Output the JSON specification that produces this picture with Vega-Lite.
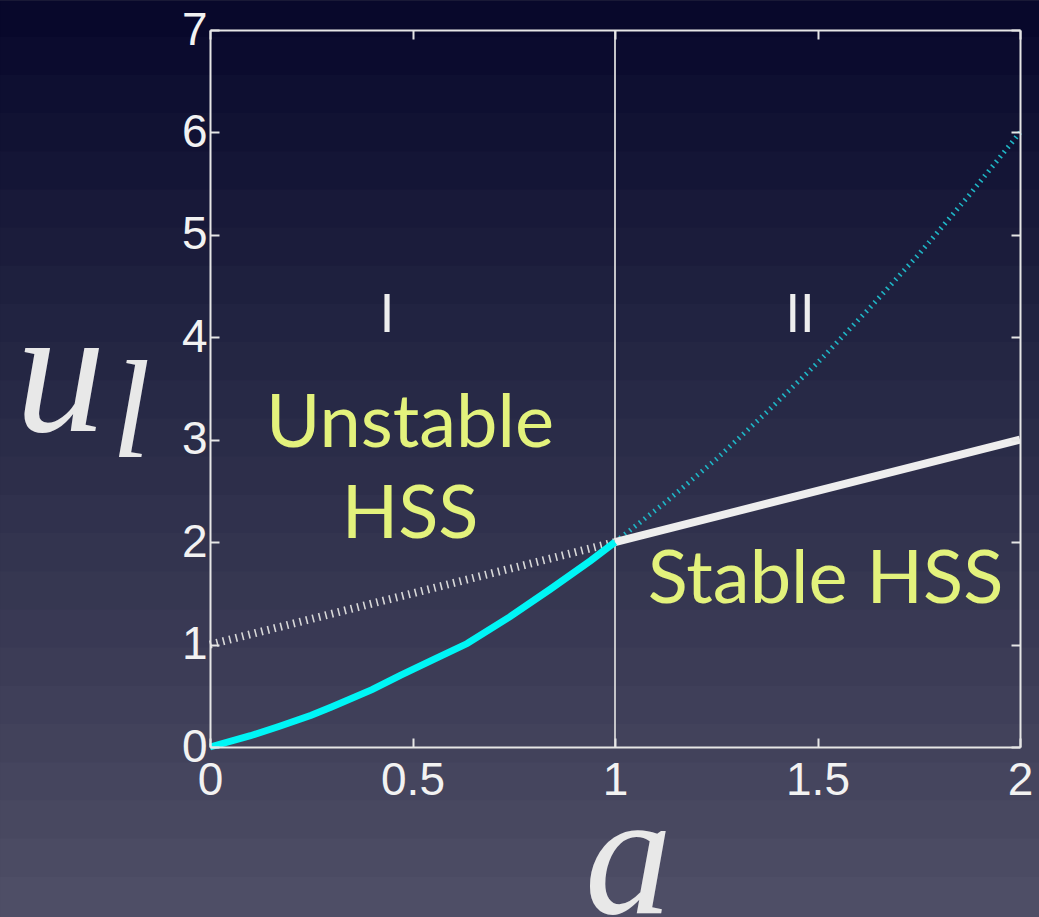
{
  "$schema": "https://vega.github.io/schema/vega-lite/v6.json",
  "width": 810,
  "height": 717,
  "autosize": {"type": "none"},
  "padding": {"left": 210, "top": 30, "right": 19, "bottom": 170},
  "background": "#2a2a42",
  "config": {
    "view": {"stroke": null},
    "axis": {
      "domain": true,
      "domainColor": "#e6e6e6",
      "domainWidth": 2,
      "grid": false,
      "labelFlush": false,
      "labelFont": "Liberation Sans",
      "labelFontSize": 46,
      "labelColor": "#f2f2f2",
      "tickColor": "#e6e6e6",
      "tickWidth": 2,
      "tickSize": -9,
      "titleColor": "#e8e8e8",
      "titleFont": "Liberation Serif",
      "titleFontStyle": "italic",
      "titleFontWeight": "normal"
    }
  },
  "datasets": {
    "backdrop": [
      {"lo": 6.915, "hi": 7.288, "shade": 7.102},
      {"lo": 6.543, "hi": 6.935, "shade": 6.729},
      {"lo": 6.170, "hi": 6.563, "shade": 6.356},
      {"lo": 5.797, "hi": 6.190, "shade": 5.983},
      {"lo": 5.424, "hi": 5.817, "shade": 5.611},
      {"lo": 5.051, "hi": 5.444, "shade": 5.238},
      {"lo": 4.679, "hi": 5.071, "shade": 4.865},
      {"lo": 4.306, "hi": 4.699, "shade": 4.492},
      {"lo": 3.933, "hi": 4.326, "shade": 4.119},
      {"lo": 3.560, "hi": 3.953, "shade": 3.747},
      {"lo": 3.187, "hi": 3.580, "shade": 3.374},
      {"lo": 2.815, "hi": 3.207, "shade": 3.001},
      {"lo": 2.442, "hi": 2.835, "shade": 2.628},
      {"lo": 2.069, "hi": 2.462, "shade": 2.255},
      {"lo": 1.696, "hi": 2.089, "shade": 1.883},
      {"lo": 1.323, "hi": 1.716, "shade": 1.510},
      {"lo": 0.951, "hi": 1.343, "shade": 1.137},
      {"lo": 0.578, "hi": 0.971, "shade": 0.764},
      {"lo": 0.205, "hi": 0.598, "shade": 0.391},
      {"lo": -0.168, "hi": 0.225, "shade": 0.019},
      {"lo": -0.541, "hi": -0.148, "shade": -0.354},
      {"lo": -0.914, "hi": -0.521, "shade": -0.727},
      {"lo": -1.286, "hi": -0.894, "shade": -1.100},
      {"lo": -1.659, "hi": -1.266, "shade": -1.473}
    ],
    "cyanSolid": [
      {"a": 0, "u": 0}, {"a": 0.1, "u": 0.11}, {"a": 0.17, "u": 0.2}, {"a": 0.25, "u": 0.31},
      {"a": 0.3, "u": 0.39}, {"a": 0.4, "u": 0.56}, {"a": 0.47, "u": 0.7}, {"a": 0.55, "u": 0.85},
      {"a": 0.635, "u": 1.01}, {"a": 0.74, "u": 1.27}, {"a": 0.84, "u": 1.54}, {"a": 0.94, "u": 1.82},
      {"a": 1, "u": 2}
    ],
    "cyanDotted": [
      {"a": 1, "u": 2}, {"a": 1.125, "u": 2.39}, {"a": 1.25, "u": 2.81}, {"a": 1.375, "u": 3.27},
      {"a": 1.5, "u": 3.75}, {"a": 1.625, "u": 4.27}, {"a": 1.75, "u": 4.81}, {"a": 1.875, "u": 5.39},
      {"a": 2, "u": 6}
    ],
    "whiteDotted": [{"a": 0, "u": 1}, {"a": 1, "u": 2}],
    "whiteSolid": [{"a": 1, "u": 2}, {"a": 2, "u": 3}],
    "divider": [{"a": 1}],
    "regions": [
      {"a": 0.437, "u": 4.05, "label": "I"},
      {"a": 1.457, "u": 4.05, "label": "II"}
    ],
    "notes": [
      {"a": 0.494, "u": 2.93, "label": "Unstable"},
      {"a": 0.494, "u": 2.04, "label": "HSS"},
      {"a": 1.52, "u": 1.405, "label": "Stable HSS"}
    ],
    "sub": [{"a": -0.195, "u": 2.83, "label": "l"}]
  },
  "layer": [
    {
      "data": {"name": "backdrop"},
      "mark": {"type": "rect", "clip": false, "strokeWidth": 0},
      "encoding": {
        "x": {"datum": -0.5185, "type": "quantitative", "scale": {"domain": [0, 2], "nice": false, "zero": false}, "axis": null},
        "x2": {"datum": 2.047},
        "y": {"field": "lo", "type": "quantitative", "scale": {"domain": [0, 7], "nice": false, "zero": false}, "axis": null},
        "y2": {"field": "hi"},
        "color": {"field": "shade", "type": "quantitative", "legend": null,
          "scale": {"domain": [7.288, 3.8, 0.9, -1.659], "range": ["#06062a", "#242643", "#3b3b55", "#504f67"], "interpolate": "rgb"}}
      }
    },
    {
      "data": {"name": "divider"},
      "mark": {"type": "rule", "color": "#c4c4c8", "strokeWidth": 2},
      "encoding": {
        "x": {"field": "a", "type": "quantitative", "scale": {"domain": [0, 2], "nice": false, "zero": false}, "axis": null}
      }
    },
    {
      "data": {"name": "whiteDotted"},
      "mark": {"type": "line", "color": "#d8d8d8", "strokeWidth": 8, "strokeDash": [1.6, 5], "strokeCap": "butt"},
      "encoding": {
        "x": {"field": "a", "type": "quantitative", "scale": {"domain": [0, 2], "nice": false, "zero": false},
          "axis": {"zindex": 2, "values": [0, 0.5, 1, 1.5, 2], "format": "~g", "labelPadding": 20, "title": "a", "titleFontSize": 175, "titleX": 418, "titleY": 165, "titleBaseline": "alphabetic", "titleAlign": "center"}},
        "y": {"field": "u", "type": "quantitative", "scale": {"domain": [0, 7], "nice": false, "zero": false},
          "axis": {"zindex": 2, "values": [0, 1, 2, 3, 4, 5, 6, 7], "format": "~g", "labelPadding": 12, "title": "u", "titleAngle": 0, "titleFontSize": 180, "titleX": -150, "titleY": 400, "titleBaseline": "alphabetic", "titleAlign": "center"}}
      }
    },
    {
      "data": {"name": "cyanDotted"},
      "mark": {"type": "line", "color": "#1fb6c6", "strokeWidth": 5, "strokeDash": [1.6, 4.6], "strokeCap": "butt"},
      "encoding": {
        "x": {"field": "a", "type": "quantitative", "scale": {"domain": [0, 2], "nice": false, "zero": false},
          "axis": {"zindex": 2, "orient": "top", "values": [0, 0.5, 1, 1.5, 2], "labels": false, "title": null}},
        "y": {"field": "u", "type": "quantitative", "scale": {"domain": [0, 7], "nice": false, "zero": false},
          "axis": {"zindex": 2, "orient": "right", "values": [0, 1, 2, 3, 4, 5, 6, 7], "labels": false, "title": null}}
      }
    },
    {
      "data": {"name": "whiteSolid"},
      "mark": {"type": "line", "color": "#eeeeee", "strokeWidth": 8},
      "encoding": {
        "x": {"field": "a", "type": "quantitative", "scale": {"domain": [0, 2], "nice": false, "zero": false}, "axis": null},
        "y": {"field": "u", "type": "quantitative", "scale": {"domain": [0, 7], "nice": false, "zero": false}, "axis": null}
      }
    },
    {
      "data": {"name": "cyanSolid"},
      "mark": {"type": "line", "color": "#00f5f5", "strokeWidth": 7},
      "encoding": {
        "x": {"field": "a", "type": "quantitative", "scale": {"domain": [0, 2], "nice": false, "zero": false}, "axis": null},
        "y": {"field": "u", "type": "quantitative", "scale": {"domain": [0, 7], "nice": false, "zero": false}, "axis": null}
      }
    },
    {
      "data": {"name": "regions"},
      "mark": {"type": "text", "font": "Lato", "fontSize": 52, "color": "#eeeeee", "align": "center", "baseline": "alphabetic"},
      "encoding": {
        "x": {"field": "a", "type": "quantitative", "scale": {"domain": [0, 2], "nice": false, "zero": false}, "axis": null},
        "y": {"field": "u", "type": "quantitative", "scale": {"domain": [0, 7], "nice": false, "zero": false}, "axis": null},
        "text": {"field": "label"}
      }
    },
    {
      "data": {"name": "notes"},
      "mark": {"type": "text", "font": "Lato", "fontSize": 74, "color": "#e3f27c", "align": "center", "baseline": "alphabetic"},
      "encoding": {
        "x": {"field": "a", "type": "quantitative", "scale": {"domain": [0, 2], "nice": false, "zero": false}, "axis": null},
        "y": {"field": "u", "type": "quantitative", "scale": {"domain": [0, 7], "nice": false, "zero": false}, "axis": null},
        "text": {"field": "label"}
      }
    },
    {
      "data": {"name": "sub"},
      "mark": {"type": "text", "font": "Liberation Serif", "fontStyle": "italic", "fontSize": 140, "color": "#e8e8e8", "align": "center", "baseline": "alphabetic", "clip": false},
      "encoding": {
        "x": {"field": "a", "type": "quantitative", "scale": {"domain": [0, 2], "nice": false, "zero": false}, "axis": null},
        "y": {"field": "u", "type": "quantitative", "scale": {"domain": [0, 7], "nice": false, "zero": false}, "axis": null},
        "text": {"field": "label"}
      }
    }
  ],
  "resolve": {"axis": {"x": "independent", "y": "independent"}, "scale": {"color": "independent"}}
}
